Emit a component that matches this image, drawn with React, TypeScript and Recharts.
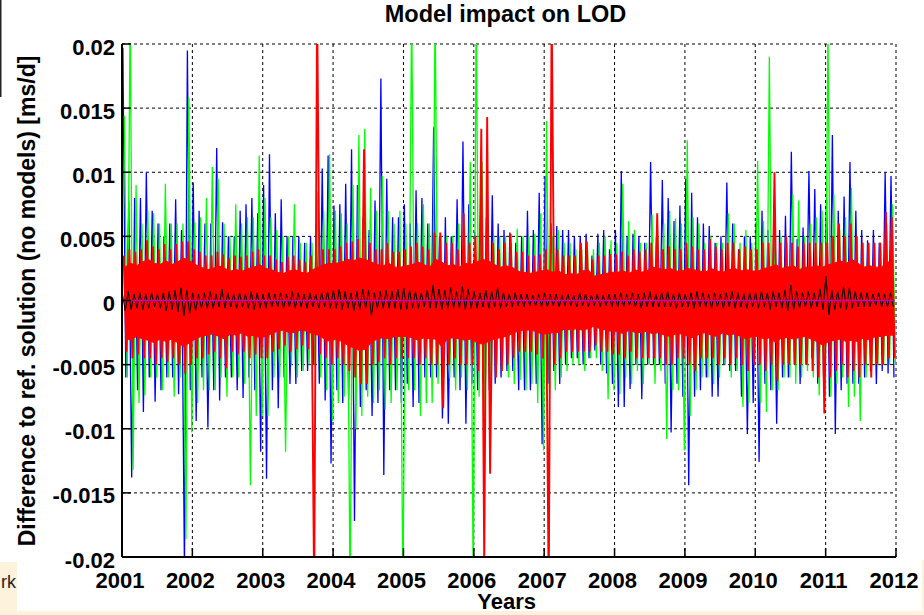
import { Area, CartesianGrid, ComposedChart, Line, XAxis, YAxis } from 'recharts'

const FONT = "'Liberation Sans', Arial, Helvetica, sans-serif"

// values in 1e-3 ms/d, two per month (upper, lower swing), Jan 2001 .. Dec 2011
const BLUE = [
  19.7, -6, 7.7, -13.8, 8, -7, 8, -8.7, 10, -6, 7, -7.9, 6, -7, 5, -6, 6, -6, 7.9, -7.3, 5.5, -21, 19.5, -7,
  9.2, -9.4, 7, -6, 6, -9.9, 6, -7, 11.9, -7.8, 6.1, -6, 5, -6, 5, -7, 7, -7.6, 7.5, -6, 8, -7, 6.8, -11.8,
  9, -13.9, 11.4, -7, 6.8, -8.4, 7.9, -6, 5, -6.5, 5, -6.5, 5, -5.5, 4.5, -5.5, 5, -5, 6, -6.5, 10.3, -7.8, 11.3, -12.7,
  7.4, -7, 7.5, -8, 9.1, -7.7, 11.8, -17.2, 9, -8.3, 6.5, -7, 5.5, -9, 7.8, -8, 17.3, -13.6, 9.5, -7, 6.5, -7, 6.5, -8,
  7.5, -6.5, 6, -8.3, 8.6, -8, 8, -6, 6, -6, 13.5, -6, 5, -9.2, 6.5, -9.6, 5, -6, 7.9, -7, 12.4, -9.6, 7.5, -6.5,
  5.3, -7, 6.6, -6.5, 6.5, -7, 8.2, -6.5, 6, -6, 5.5, -5.5, 5.3, -5.5, 4.5, -7, 5, -7, 7, -7, 5.5, -6.5, 8.4, -11.2,
  9.7, -6.5, 6, -5.5, 5.8, -6.5, 5.5, -5, 5.5, -4.5, 5, -4.5, 5, -5, 5.2, -4.5, 3.5, -3.9, 5.2, -5, 5.5, -5.7, 4, -6.5,
  5.5, -8.3, 10.1, -8.3, 5, -6.9, 5.2, -5, 5, -7.7, 4.5, -5, 10.8, -5, 5, -5, 9.4, -6.5, 8, -10.3, 6.2, -6.5, 7.4, -7.5,
  9.5, -14.4, 8.4, -7.5, 6.5, -7, 6, -6, 5.8, -7.5, 4.5, -7.5, 5, -5, 9.2, -5.5, 6, -5.5, 4, -7.5, 5, -10.4, 5, -8,
  6.1, -12.6, 7, -6.5, 5.5, -7, 5.5, -9.6, 5.5, -6, 6.6, -6, 11.6, -5, 4.8, -6.5, 5.7, -5, 10.1, -4.5, 8.7, -6.5, 7.5, -6,
  8, -7.5, 12.9, -10.4, 7, -7, 8.1, -6.5, 10.8, -6.5, 7, -6.5, 5.5, -6, 4.7, -5.5, 5.5, -6.5, 4.5, -5.5, 10, -5.7, 9.7, -6,
]

const GREEN = [
  14.4, -6, 23, -13.2, 9, -8, 6, -7.4, 7, -6, 6.8, -6, 6, -7, 9.1, -6, 6, -7.5, 6, -6, 6, -18.6, 15.8, -10.3,
  6.1, -8, 6.5, -7, 8, -7, 10.4, -7, 9.5, -6, 6, -7.5, 5, -6, 7.5, -6, 6, -6.5, 6.5, -14.4, 6.5, -9, 11.3, -9,
  8, -9, 6.5, -6, 5.5, -6, 5, -11.8, 5, -5, 7.5, -6, 4.5, -5.5, 4.5, -5, 4.5, -5, 8.5, -6, 7, -7, 11.4, -9.4,
  7, -8, 6.8, -7.5, 6, -23, 9, -10, 12.9, -9, 13.4, -7.5, 8.8, -8, 7, -7, 9.7, -8.5, 7, -8, 6, -7, 7, -23,
  6, -7, 23, -7, 6, -9, 7.5, -8, 6, -8, 23, -6.5, 5, -6, 5, -6, 5, -7, 6, -6, 6, -7, 10.8, -23,
  23, -7.5, 10.8, -9, 5.5, -8, 5, -5, 5, -5.5, 5, -6, 4.5, -6.5, 5.6, -6.2, 5, -7, 5, -6.5, 5.2, -8, 6.8, -11.7,
  14, -7, 5, -7, 5.5, -6, 4.5, -5.5, 4.5, -5, 4, -5, 4, -5.5, 4, -4.5, 4, -4.5, 4.5, -5.5, 5, -7.7, 4.7, -7,
  4.5, -7.3, 9.1, -6, 6.2, -6.5, 5.5, -5.5, 4.5, -6.5, 4.5, -5, 6.7, -6.5, 5, -5.5, 6, -10.8, 7, -7, 6.4, -7, 6, -11.7,
  12.5, -9, 6.5, -7, 6, -6, 4.5, -6, 5, -6.5, 4.5, -6, 4.5, -5, 6.8, -6, 6, -5.5, 4.5, -8.3, 5.5, -8, 4.5, -5,
  10.9, -8, 6.2, -8.7, 19, -7, 5, -7, 5, -6, 4.5, -6, 8.3, -6.5, 7.8, -6, 5, -5.5, 6, -6, 6.5, -7.4, 7, -7.5,
  21, -7.5, 8.3, -6.5, 5.5, -6, 6.5, -8.3, 8.8, -7.5, 5, -9.4, 4.5, -6, 4.5, -5, 4.5, -5, 4.5, -5, 6, -5, 7.5, -5,
]

const RED = [
  3.5, -4, 4, -4.5, 3.8, -4.2, 4, -4.5, 4.7, -4.5, 4.2, -5, 4, -4.5, 4.4, -4.8, 4, -4.5, 4.4, -5, 4.6, -5.7, 4.6, -5,
  4, -4.5, 3.8, -4.5, 3.5, -4.2, 3.5, -4, 3.8, -4.5, 3.6, -5.3, 3.3, -4, 3.5, -4.2, 3.4, -4, 3.5, -4.5, 3.8, -4.2, 4, -4.5,
  3.5, -4.5, 3.5, -4, 3.2, -3.8, 3, -3.5, 3.4, -4, 3.5, -3.8, 3.2, -3.5, 3, -3.8, 3.5, -23, 23, -4.2, 4, -4.5, 4, -5,
  4, -4.5, 4.2, -5, 4.5, -5.5, 4.6, -6, 4.8, -6.5, 11.8, -6.5, 4.5, -5, 4, -4.8, 4, -4.5, 4.5, -5, 3.8, -4.5, 3.8, -4.5,
  4, -4.5, 4.2, -4.5, 4.5, -5, 4.2, -4.5, 4, -5, 5.3, -5, 5.3, -8.4, 4.5, -5, 4.5, -4.5, 4, -5, 6.8, -5, 4.5, -5,
  5, -5.5, 13.4, -20.5, 14.3, -13.5, 4.5, -6, 4, -5.5, 4.5, -5, 5.2, -4.5, 3.8, -4, 3.8, -4, 3.5, -4, 3.5, -4.2, 3.6, -4.5,
  4, -23, 23, -5, 4, -4.5, 3.5, -4, 3.5, -4, 3.5, -4, 4.5, -4, 4.6, -4, 3.2, -3.5, 3.5, -4, 3.5, -4, 3.6, -4.2,
  3.6, -4.2, 3.8, -4.5, 3.5, -4, 4, -4.5, 3.8, -4.5, 4, -4.5, 4.5, -4.5, 6.8, -4.5, 4, -5, 4.2, -5, 4, -4.5, 4, -4.5,
  4.5, -5, 4.2, -5.5, 4, -4.5, 4, -4.5, 4.8, -4.5, 4.2, -5, 4, -4.5, 4.5, -5, 4.5, -4.5, 4, -5, 4.2, -5.5, 4, -5,
  4, -5, 4.5, -5.5, 4.5, -5, 10, -6.3, 4.5, -5, 5, -5, 4.5, -5, 4.2, -5, 4.5, -5, 4.5, -5.5, 4.5, -6, 4.5, -8.8,
  4.5, -6, 5, -5.5, 6, -5, 5, -6, 6, -5.5, 5, -6, 4.5, -5, 4.5, -6, 4.5, -5, 4.5, -5, 6.9, -4.5, 6.5, -4.5,
]

// solid core of the red band, one value per month
const RED_HI = [
  2.6, 2.9, 2.7, 3.0, 3.2, 2.9, 2.8, 3.1, 2.8, 3.0, 3.3, 3.1,
  2.8, 2.6, 2.4, 2.5, 2.7, 2.5, 2.3, 2.4, 2.3, 2.5, 2.6, 2.8,
  2.5, 2.4, 2.2, 2.1, 2.3, 2.4, 2.2, 2.1, 2.4, 2.6, 2.8, 2.9,
  2.9, 3.0, 3.2, 3.1, 3.3, 3.2, 3.0, 2.8, 2.7, 2.9, 2.6, 2.6,
  2.7, 2.8, 3.0, 2.8, 2.6, 3.2, 3.0, 2.7, 2.8, 2.6, 2.9, 2.8,
  3.0, 3.2, 3.1, 2.8, 2.6, 2.7, 2.6, 2.3, 2.2, 2.1, 2.2, 2.3,
  2.4, 2.2, 2.3, 2.0, 2.1, 2.0, 2.3, 2.4, 1.9, 2.0, 2.1, 2.2,
  2.2, 2.3, 2.1, 2.4, 2.2, 2.3, 2.6, 2.5, 2.4, 2.5, 2.3, 2.3,
  2.5, 2.4, 2.3, 2.2, 2.5, 2.3, 2.2, 2.4, 2.5, 2.3, 2.4, 2.3,
  2.3, 2.5, 2.6, 2.8, 2.5, 2.6, 2.7, 2.4, 2.6, 2.6, 2.7, 2.6,
  2.8, 2.9, 3.1, 2.9, 3.2, 2.9, 2.6, 2.7, 2.6, 2.6, 3.0, 3.0,
]

const RED_LO = [
  -2.9, -3.1, -2.8, -3.0, -3.1, -3.3, -3.0, -3.2, -3.0, -3.3, -3.6, -3.3,
  -3.0, -2.8, -2.7, -2.6, -2.8, -3.0, -2.6, -2.7, -2.5, -2.8, -2.7, -2.9,
  -2.8, -2.6, -2.4, -2.3, -2.5, -2.5, -2.3, -2.4, -2.6, -2.7, -3.0, -3.2,
  -3.0, -3.2, -3.5, -3.7, -3.9, -3.8, -3.3, -3.0, -2.9, -3.0, -2.8, -2.8,
  -2.8, -2.9, -3.1, -2.9, -3.0, -3.0, -3.6, -3.0, -2.9, -3.0, -3.1, -3.0,
  -3.3, -3.4, -3.2, -3.0, -2.9, -2.8, -2.6, -2.4, -2.3, -2.3, -2.4, -2.6,
  -2.6, -2.5, -2.5, -2.2, -2.3, -2.2, -2.3, -2.2, -2.0, -2.2, -2.3, -2.4,
  -2.4, -2.6, -2.3, -2.5, -2.5, -2.4, -2.6, -2.5, -2.7, -2.8, -2.6, -2.6,
  -2.8, -2.9, -2.6, -2.5, -2.7, -2.8, -2.5, -2.7, -2.6, -2.8, -3.0, -2.8,
  -2.8, -3.0, -2.9, -3.3, -2.9, -2.9, -3.0, -2.9, -2.8, -3.0, -3.2, -3.5,
  -3.2, -3.1, -3.0, -3.2, -3.1, -3.2, -2.9, -3.1, -2.8, -2.8, -2.7, -2.7,
]

const BLACK = [
  0.6, -0.8, 0.7, -0.7, 0.5, -0.6, 0.6, -0.7, 0.5, -0.6, 0.6, -0.5, 0.5, -0.6, 0.6, -0.8, 0.7, -0.7, 0.8, -0.9, 1.0, -1.2, 0.8, -1.0,
  0.6, -0.8, 0.5, -0.6, 0.6, -0.6, 0.7, -0.6, 0.5, -0.5, 0.9, -0.6, 0.6, -0.5, 0.5, -0.6, 0.6, -0.5, 0.5, -0.6, 0.7, -0.7, 0.6, -0.6,
  0.5, -0.6, 0.6, -0.5, 0.5, -0.5, 0.6, -0.6, 0.5, -0.5, 0.7, -0.6, 0.6, -0.5, 0.5, -0.6, 0.6, -0.5, 0.5, -0.6, 0.6, -0.5, 0.7, -0.6,
  0.8, -0.6, 0.9, -0.7, 0.7, -0.6, 0.6, -0.8, 0.7, -0.7, 0.9, -0.6, 0.8, -1.2, 0.6, -0.6, 0.7, -0.6, 0.8, -0.6, 0.7, -0.6, 0.9, -0.7,
  1.0, -0.7, 0.8, -0.6, 0.7, -0.6, 0.6, -0.5, 0.8, -0.6, 1.2, -0.6, 0.9, -0.7, 0.8, -0.6, 1.0, -0.6, 0.7, -0.6, 1.1, -0.7, 0.9, -0.6,
  0.7, -0.6, 0.6, -0.5, 0.8, -0.6, 0.7, -0.5, 1.0, -0.6, 0.6, -0.5, 0.5, -0.5, 0.6, -0.4, 0.5, -0.5, 0.5, -0.4, 0.4, -0.4, 0.5, -0.5,
  0.6, -0.5, 0.5, -0.4, 0.5, -0.5, 0.4, -0.4, 0.5, -0.4, 0.4, -0.5, 0.6, -0.4, 0.5, -0.5, 0.4, -0.4, 0.5, -0.5, 0.4, -0.4, 0.5, -0.5,
  0.5, -0.5, 0.6, -0.5, 0.5, -0.4, 0.6, -0.5, 0.5, -0.6, 0.6, -0.5, 0.7, -0.5, 0.5, -0.5, 0.6, -0.5, 0.7, -0.5, 0.5, -0.6, 0.6, -0.5,
  0.5, -0.5, 0.6, -0.6, 0.7, -0.5, 0.6, -0.5, 0.5, -0.6, 0.6, -0.5, 0.5, -0.6, 0.6, -0.5, 0.7, -0.6, 0.6, -0.5, 0.5, -0.6, 0.6, -0.5,
  0.6, -0.6, 0.7, -0.5, 0.6, -0.7, 0.7, -0.5, 0.6, -0.6, 0.8, -0.8, 1.2, -0.7, 0.7, -0.6, 0.6, -0.5, 0.7, -0.6, 0.6, -0.5, 0.9, -0.7,
  1.9, -1.1, 0.8, -0.7, 0.7, -0.6, 1.1, -0.7, 1.0, -0.6, 0.7, -0.5, 0.6, -0.5, 0.6, -0.5, 0.5, -0.4, 0.6, -0.5, 0.5, -0.5, 0.6, -0.5,
]

// the fifth solution stays on zero over the whole span
const MAGENTA_T = [2001, 2011.98]
const MAGENTA = [0, 0]

const YEAR_TICKS = [2001, 2002, 2003, 2004, 2005, 2006, 2007, 2008, 2009, 2010, 2011, 2012]
const VALUE_TICKS = [-0.02, -0.015, -0.01, -0.005, 0, 0.005, 0.01, 0.015, 0.02]
const UNIT = 1e-3

// half-month samples; each series sits at its own offset inside the half month
const swings = (values: number[], phase: number) =>
  values.map((v, j) => ({ t: 2001 + (j + phase) / 24, v: v * UNIT }))

const blueData = swings(BLUE, 0.3)
const greenData = swings(GREEN, 0.8)
const redData = swings(RED, 0.55)
const blackData = swings(BLACK, 0.1)
const coreData = RED_HI.map((hi, i) => ({ t: 2001 + (i + 0.5) / 12, band: [RED_LO[i] * UNIT, hi * UNIT] }))
const magentaData = MAGENTA.map((v, i) => ({ t: MAGENTA_T[i], v: v * UNIT }))

const fmtValue = (v: number) => String(Number(v.toFixed(3)))

function XTick({ x, y, payload }: any) {
  return (
    <g>
      <line x1={x} x2={x} y1={y} y2={y - 9} stroke="#000" strokeWidth={1.5} />
      <text x={x - 2} y={y + 31} textAnchor="middle" fontSize={22} fontWeight="bold" fontFamily={FONT} fill="#000">
        {payload.value}
      </text>
    </g>
  )
}

function YTick({ x, y, payload }: any) {
  return (
    <g>
      <line x1={x} x2={x + 9} y1={y} y2={y} stroke="#000" strokeWidth={1.5} />
      <text x={x - 7} y={y + 10.5} textAnchor="end" fontSize={22} fontWeight="bold" fontFamily={FONT} fill="#000">
        {fmtValue(payload.value)}
      </text>
    </g>
  )
}

export default function App() {
  return (
    <div style={{ position: 'absolute', left: 0, top: 0, width: 924, height: 615, background: '#fff', overflow: 'hidden' }}>
      <ComposedChart width={924} height={615} margin={{ top: 44, right: 28, bottom: 0, left: 0 }}>
        <CartesianGrid stroke="#000" strokeDasharray="3 3" strokeWidth={1} />
        <XAxis
          dataKey="t"
          type="number"
          domain={[2001, 2012]}
          ticks={YEAR_TICKS}
          interval={0}
          height={58}
          tickSize={0}
          tickMargin={0}
          tickLine={false}
          axisLine={{ stroke: '#000', strokeWidth: 2 }}
          tick={(p: any) => <XTick {...p} />}
          allowDataOverflow
        />
        <YAxis
          type="number"
          domain={[-0.02, 0.02]}
          ticks={VALUE_TICKS}
          interval={0}
          width={122}
          tickSize={0}
          tickMargin={0}
          tickLine={false}
          axisLine={{ stroke: '#000', strokeWidth: 2 }}
          tick={(p: any) => <YTick {...p} />}
          allowDataOverflow
        />
        <Line data={blueData} dataKey="v" stroke="#0000ff" strokeWidth={1.3} dot={false} isAnimationActive={false} />
        <Line data={greenData} dataKey="v" stroke="#00ff00" strokeWidth={1.3} dot={false} isAnimationActive={false} />
        <Area
          data={coreData}
          dataKey="band"
          stroke="#ff0000"
          strokeWidth={1}
          fill="#ff0000"
          fillOpacity={1}
          isAnimationActive={false}
          zIndex={450}
        />
        <Line
          data={redData}
          dataKey="v"
          stroke="#ff0000"
          strokeWidth={1.9}
          dot={false}
          isAnimationActive={false}
          zIndex={460}
        />
        <Line
          data={blackData}
          dataKey="v"
          stroke="#000000"
          strokeWidth={1}
          dot={false}
          isAnimationActive={false}
          zIndex={470}
        />
        <Line
          data={magentaData}
          dataKey="v"
          stroke="#c000c0"
          strokeWidth={1.5}
          dot={false}
          isAnimationActive={false}
          zIndex={480}
        />
      </ComposedChart>
      <svg width={924} height={615} style={{ position: 'absolute', left: 0, top: 0, pointerEvents: 'none' }}>
        <rect x={0} y={0} width={1.5} height={97} fill="#222" />
        <text x={505.5} y={22} textAnchor="middle" fontSize={23.5} fontWeight="bold" fontFamily={FONT} fill="#000">
          Model impact on LOD
        </text>
        <text
          x={35}
          y={301}
          transform="rotate(-90 35 301)"
          textAnchor="middle"
          fontSize={23}
          fontWeight="bold"
          fontFamily={FONT}
          fill="#000"
        >
          Difference to ref. solution (no models) [ms/d]
        </text>
        <text x={506.7} y={609} textAnchor="middle" fontSize={22} fontWeight="bold" fontFamily={FONT} fill="#000">
          Years
        </text>
        <rect x={0} y={562} width={17} height={53} fill="#fdf2dc" />
        <rect x={0} y={611} width={924} height={4} fill="#fdf2dc" />
        <rect x={922} y={560} width={2} height={55} fill="#fdf2dc" />
        <text x={1} y={588} fontSize={18} fontFamily={FONT} fill="#222">
          rk
        </text>
      </svg>
    </div>
  )
}
